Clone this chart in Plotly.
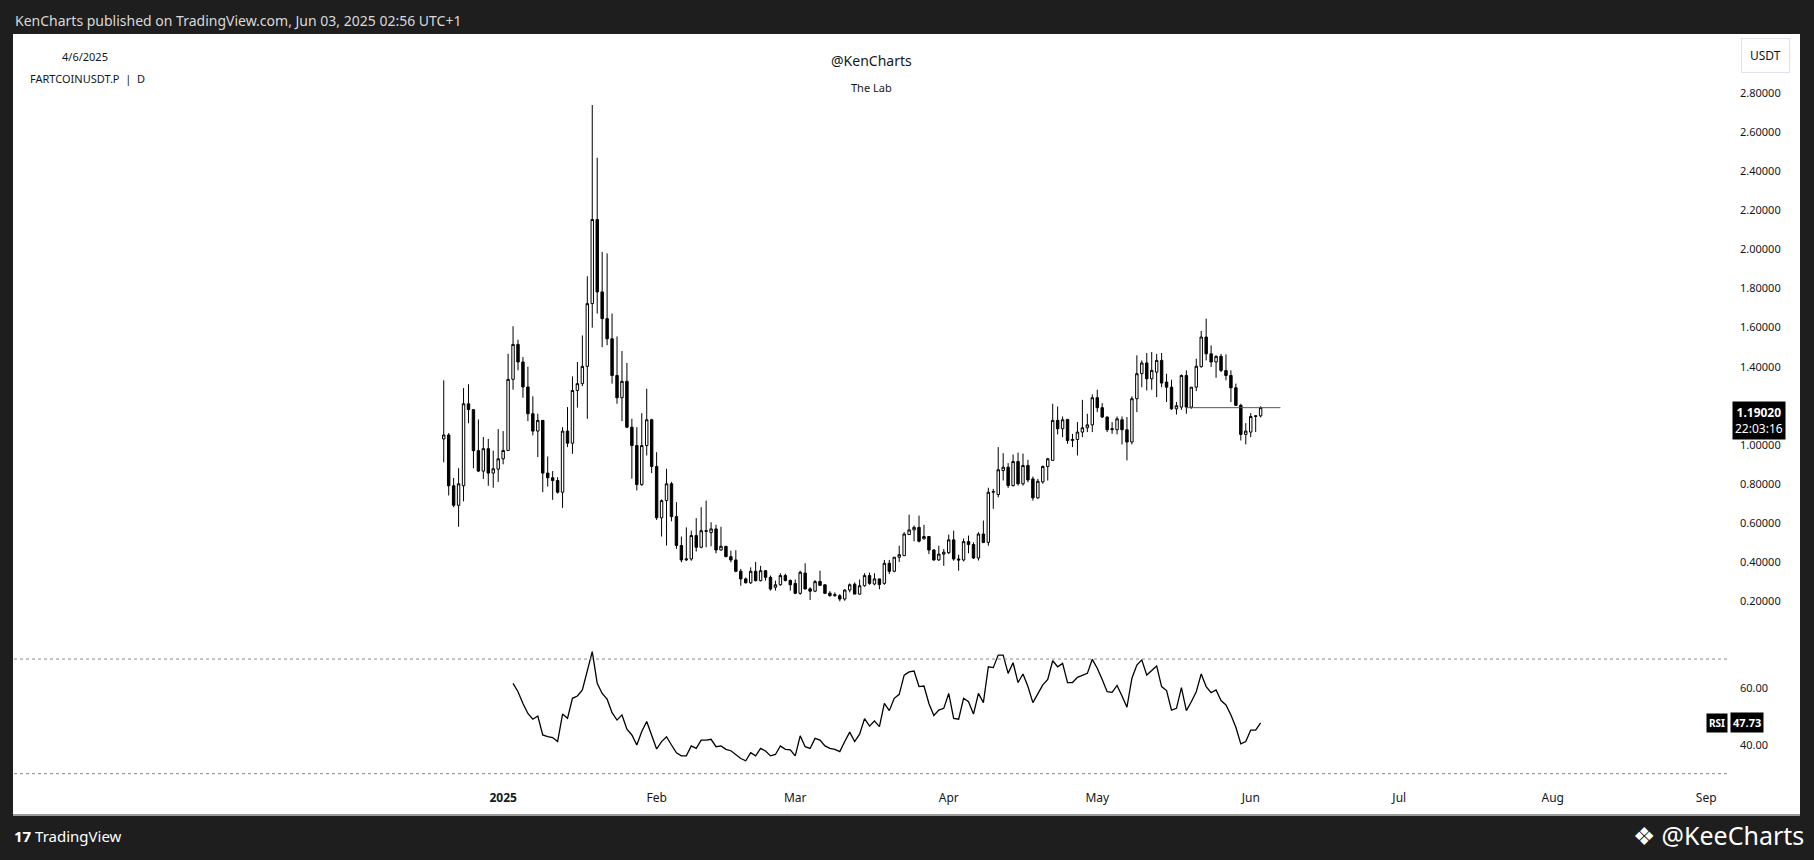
import pandas as pd
import plotly.graph_objects as go

W, H = 1814, 860

# FARTCOINUSDT.P 日线 (2024-12-20 ~ 2025-06-03)
first_day = "2024-12-20"
opens = [
    1.03, 1.05, 0.79, 0.69, 0.79, 1.21, 1.18, 0.97, 0.865, 0.98, 0.855, 0.875,
    0.928, 0.971, 1.335, 1.514, 1.424, 1.296, 1.159, 1.070, 1.125, 0.855, 0.831, 0.817, 0.757, 1.070, 1.008, 1.278,
    1.313, 1.4015, 1.723, 2.154, 1.783, 1.646, 1.543, 1.355, 1.241, 1.325, 1.090, 0.996, 0.796, 0.996, 1.128,
    0.889, 0.626, 0.714, 0.80, 0.632, 0.484, 0.41, 0.415, 0.535, 0.475, 0.56, 0.55, 0.569, 0.461,
    0.48, 0.427, 0.41, 0.352, 0.313, 0.293, 0.352, 0.304, 0.355, 0.321, 0.27, 0.283, 0.33, 0.305,
    0.29, 0.239, 0.343, 0.262, 0.25, 0.30, 0.283, 0.24, 0.227, 0.227, 0.21, 0.256, 0.286, 0.235, 0.278, 0.33,
    0.287, 0.313, 0.29, 0.393, 0.352, 0.424, 0.432, 0.54, 0.564, 0.577, 0.518, 0.53, 0.461, 0.41, 0.44,
    0.447, 0.513, 0.415, 0.41, 0.504, 0.489, 0.42, 0.543, 0.50, 0.757, 0.745, 0.868, 0.885, 0.791, 0.914,
    0.80, 0.894, 0.825, 0.728, 0.81, 0.889, 0.92, 1.125, 1.082, 1.13, 1.022, 1.027, 1.065, 1.087, 1.102,
    1.241, 1.19, 1.142, 1.077, 1.077, 1.128, 1.077, 1.014, 1.236, 1.364, 1.419, 1.338, 1.372, 1.432, 1.321, 1.295,
    1.184, 1.193, 1.355, 1.193, 1.295, 1.40, 1.552, 1.466, 1.424, 1.453, 1.38, 1.355, 1.292, 1.202, 1.053,
    1.065, 1.145, 1.148,
]
highs = [
    1.33, 1.06, 0.83, 0.88, 1.29, 1.31, 1.18, 1.13, 1.04, 1.03, 0.97, 1.08,
    1.07, 1.466, 1.607, 1.538, 1.449, 1.40, 1.248, 1.159, 1.125, 0.94, 0.865, 0.834, 1.09, 1.193, 1.35, 1.424,
    1.56, 1.863, 2.74, 2.47, 1.988, 1.98, 1.672, 1.555, 1.48, 1.419, 1.133, 1.09, 1.162, 1.287, 1.133,
    0.962, 0.72, 0.877, 0.81, 0.706, 0.53, 0.577, 0.56, 0.624, 0.68, 0.714, 0.603, 0.59, 0.58,
    0.48, 0.458, 0.46, 0.364, 0.32, 0.372, 0.40, 0.38, 0.358, 0.33, 0.304, 0.342, 0.34, 0.31,
    0.31, 0.355, 0.393, 0.27, 0.307, 0.355, 0.283, 0.25, 0.244, 0.235, 0.26, 0.29, 0.295, 0.31, 0.342, 0.345,
    0.342, 0.313, 0.41, 0.41, 0.424, 0.483, 0.552, 0.642, 0.586, 0.637, 0.59, 0.53, 0.466, 0.483, 0.466,
    0.54, 0.56, 0.437, 0.52, 0.535, 0.50, 0.552, 0.612, 0.78, 0.774, 0.988, 0.957, 0.906, 0.95, 0.96,
    0.955, 0.923, 0.837, 0.825, 0.894, 0.933, 1.21, 1.196, 1.145, 1.13, 1.056, 1.116, 1.23, 1.159, 1.258,
    1.282, 1.213, 1.145, 1.116, 1.145, 1.145, 1.142, 1.248, 1.458, 1.432, 1.47, 1.475, 1.465, 1.47, 1.364, 1.333,
    1.219, 1.36, 1.381, 1.295, 1.441, 1.583, 1.646, 1.509, 1.458, 1.466, 1.463, 1.381, 1.313, 1.21, 1.111,
    1.162, 1.15, 1.197,
]
lows = [
    0.91, 0.74, 0.68, 0.58, 0.71, 1.11, 0.88, 0.86, 0.825, 0.79, 0.78, 0.81,
    0.90, 0.97, 1.282, 1.381, 1.241, 1.121, 1.048, 0.937, 0.757, 0.786, 0.718, 0.75, 0.677, 0.988, 0.954, 1.19,
    1.30, 1.133, 1.60, 1.672, 1.50, 1.51, 1.313, 1.21, 1.121, 1.085, 0.826, 0.766, 0.79, 0.945, 0.855,
    0.615, 0.53, 0.484, 0.608, 0.467, 0.398, 0.405, 0.406, 0.453, 0.47, 0.475, 0.48, 0.444, 0.458,
    0.424, 0.398, 0.347, 0.278, 0.29, 0.287, 0.30, 0.30, 0.304, 0.253, 0.253, 0.278, 0.30, 0.253,
    0.235, 0.232, 0.26, 0.205, 0.245, 0.278, 0.235, 0.222, 0.222, 0.198, 0.201, 0.244, 0.235, 0.232, 0.273, 0.283,
    0.28, 0.26, 0.283, 0.338, 0.347, 0.40, 0.43, 0.54, 0.506, 0.50, 0.515, 0.44, 0.406, 0.406, 0.38,
    0.44, 0.406, 0.355, 0.403, 0.444, 0.415, 0.407, 0.496, 0.483, 0.672, 0.731, 0.817, 0.779, 0.786, 0.791,
    0.791, 0.808, 0.714, 0.723, 0.80, 0.817, 0.92, 1.053, 1.039, 1.005, 0.988, 0.945, 1.039, 1.065, 1.065,
    1.167, 1.138, 1.065, 1.056, 1.053, 1.002, 0.92, 1.002, 1.167, 1.295, 1.278, 1.282, 1.244, 1.295, 1.219, 1.179,
    1.155, 1.179, 1.159, 1.184, 1.275, 1.395, 1.432, 1.398, 1.343, 1.372, 1.33, 1.219, 1.20, 1.022, 1.002,
    1.039, 1.065, 1.14,
]
closes = [
    1.05, 0.79, 0.69, 0.80, 1.21, 1.18, 0.97, 0.865, 0.98, 0.855, 0.877, 0.928,
    0.971, 1.335, 1.514, 1.424, 1.296, 1.159, 1.070, 1.125, 0.855, 0.831, 0.817, 0.757, 1.070, 1.008, 1.278, 1.313,
    1.4015, 1.723, 2.154, 1.783, 1.646, 1.543, 1.355, 1.241, 1.325, 1.090, 0.996, 0.796, 0.996, 1.128, 0.889,
    0.626, 0.714, 0.80, 0.632, 0.484, 0.41, 0.415, 0.535, 0.475, 0.56, 0.557, 0.569, 0.461, 0.48,
    0.427, 0.41, 0.352, 0.313, 0.293, 0.352, 0.304, 0.355, 0.321, 0.261, 0.283, 0.33, 0.305, 0.283,
    0.239, 0.347, 0.261, 0.25, 0.299, 0.28, 0.239, 0.227, 0.232, 0.21, 0.256, 0.283, 0.235, 0.278, 0.33, 0.29,
    0.313, 0.284, 0.393, 0.352, 0.424, 0.437, 0.543, 0.564, 0.577, 0.506, 0.53, 0.461, 0.41, 0.44, 0.45,
    0.513, 0.415, 0.41, 0.504, 0.489, 0.42, 0.543, 0.50, 0.757, 0.76, 0.872, 0.885, 0.791, 0.914, 0.80,
    0.894, 0.82, 0.728, 0.813, 0.889, 0.928, 1.125, 1.082, 1.128, 1.022, 1.027, 1.065, 1.087, 1.102, 1.241,
    1.19, 1.142, 1.077, 1.082, 1.133, 1.077, 1.014, 1.236, 1.364, 1.419, 1.338, 1.381, 1.432, 1.316, 1.295, 1.184,
    1.20, 1.355, 1.193, 1.295, 1.402, 1.552, 1.466, 1.424, 1.453, 1.381, 1.355, 1.292, 1.202, 1.053, 1.07,
    1.145, 1.148, 1.1902,
]

# RSI(14), 2025-01-03 起
rsi_first_day = "2025-01-03"
rsi_values = [
    61.5, 58.6, 54.5, 51.0, 49.0, 50.1, 43.5, 42.9, 42.6, 41.2,
    50.8, 49.3, 56.3, 57.1, 59.2, 65.6, 72.6, 61.5, 58.0, 56.0,
    51.3, 48.7, 50.5, 45.5, 43.5, 40.0, 44.7, 48.2, 43.5, 38.6,
    41.2, 42.9, 40.0, 37.3, 36.2, 36.2, 39.7, 38.8, 41.7, 41.7,
    42.0, 39.4, 39.7, 38.5, 38.0, 36.5, 35.3, 34.5, 37.3, 36.2,
    38.8, 37.9, 36.2, 36.7, 39.7, 38.5, 38.3, 36.2, 43.2, 39.4,
    38.8, 42.3, 41.7, 39.7, 38.8, 38.5, 37.7, 41.2, 44.5, 41.2,
    43.8, 49.2, 46.6, 48.4, 46.4, 54.5, 52.0, 56.3, 57.7, 64.4,
    65.5, 65.8, 60.4, 60.6, 54.5, 50.3, 52.2, 52.8, 58.0, 49.3,
    49.0, 56.3, 55.1, 50.8, 58.0, 54.8, 67.3, 67.0, 71.4, 71.4,
    65.0, 68.7, 61.8, 64.8, 60.4, 54.8, 58.0, 61.0, 62.9, 69.4,
    67.3, 68.5, 61.8, 61.8, 63.6, 64.4, 65.0, 69.9, 66.8, 62.9,
    58.6, 58.4, 60.8, 57.1, 53.2, 63.3, 67.9, 69.7, 64.4, 66.0,
    67.6, 60.4, 59.0, 52.2, 52.8, 60.0, 52.0, 55.1, 58.6, 64.8,
    60.4, 58.3, 59.2, 55.5, 54.0, 50.5, 46.2, 40.4, 41.2, 45.2,
    45.2, 47.73,
]
rsi_levels = [70, 30]

# 手绘水平线
hline_price = 1.19
hline_dates = ["2025-05-19", "2025-06-07"]
countdown = "22:03:16"

month_ticks = ["2025-01-01", "2025-02-01", "2025-03-01", "2025-04-01", "2025-05-01",
               "2025-06-01", "2025-07-01", "2025-08-01", "2025-09-01"]
month_labels = ["<b>2025</b>", "Feb", "Mar", "Apr", "May", "Jun", "Jul", "Aug", "Sep"]
# 1.2 被当前价格标签盖住, 不显示
price_ticks = [0.2, 0.4, 0.6, 0.8, 1.0, 1.4, 1.6, 1.8, 2.0, 2.2, 2.4, 2.6, 2.8]
rsi_ticks = [40, 60]

dates = pd.date_range(first_day, periods=len(opens), freq="D")
rsi_dates = pd.date_range(rsi_first_day, periods=len(rsi_values), freq="D")


def px(x):
    return x / W


def py(y):
    return 1 - y / H


FONT = "Noto Sans, Open Sans, sans-serif"
DARK = "#1e1e1e"
TEXT = "#131722"

jan1 = pd.Timestamp("2025-01-01")
x_range = [jan1 - pd.Timedelta(days=98.8), jan1 + pd.Timedelta(days=247.2)]

fig = go.Figure()

fig.add_trace(go.Candlestick(
    x=dates, open=opens, high=highs, low=lows, close=closes,
    increasing=dict(fillcolor="#ffffff", line=dict(color="#000000", width=1)),
    decreasing=dict(fillcolor="#000000", line=dict(color="#000000", width=1)),
    whiskerwidth=0, showlegend=False, xaxis="x", yaxis="y",
))

fig.add_trace(go.Scatter(
    x=rsi_dates, y=rsi_values, mode="lines",
    line=dict(color="#000000", width=1.3),
    showlegend=False, xaxis="x2", yaxis="y2",
))

shapes = [
    # 白色面板
    dict(type="rect", xref="paper", yref="paper", x0=px(13), x1=px(1800), y0=py(815), y1=py(34),
         fillcolor="#ffffff", line=dict(width=0), layer="below"),
    dict(type="line", xref="paper", yref="paper", x0=px(13), x1=px(1800), y0=py(815), y1=py(815),
         line=dict(color="#9a9a9a", width=2), layer="below"),
    dict(type="line", xref="x", yref="y", x0=hline_dates[0], x1=hline_dates[1],
         y0=hline_price, y1=hline_price, line=dict(color="#555555", width=1)),
]
for lv in rsi_levels:
    shapes.append(dict(type="line", xref="x2 domain", yref="y2", x0=0, x1=1, y0=lv, y1=lv,
                       line=dict(color="#8a8a8a", width=1, dash="dot")))

annotations = [
    dict(text="KenCharts published on TradingView.com, Jun 03, 2025 02:56 UTC+1",
         x=px(13), y=py(20), xanchor="left", yanchor="middle",
         font=dict(size=14, color="#d9d9d9")),
    dict(text="4/6/2025", x=px(60), y=py(57), xanchor="left", yanchor="middle",
         font=dict(size=11, color=TEXT)),
    dict(text="FARTCOINUSDT.P  |  D", x=px(28), y=py(78), xanchor="left", yanchor="middle",
         font=dict(size=11, color=TEXT)),
    dict(text="@KenCharts", x=px(871), y=py(60), xanchor="center", yanchor="middle",
         font=dict(size=14, color=TEXT)),
    dict(text="The Lab", x=px(871), y=py(87), xanchor="center", yanchor="middle",
         font=dict(size=11, color=TEXT)),
    dict(text="USDT", x=px(1765), y=py(55), xanchor="center", yanchor="middle",
         font=dict(size=12, color=TEXT), bgcolor="#ffffff", bordercolor="#e0e3eb",
         borderwidth=1, borderpad=8),
    dict(text=f"<b>{closes[-1]:.5f}</b><br>{countdown}", xref="paper", yref="y",
         x=px(1732), y=closes[-1], xanchor="left", yanchor="top", yshift=7,
         font=dict(size=12, color="#ffffff"), bgcolor="#000000", borderpad=2, align="center"),
    dict(text="<b>RSI</b>", xref="paper", yref="y2", x=px(1728), y=rsi_values[-1],
         xanchor="right", yanchor="middle", font=dict(size=10, color="#ffffff"),
         bgcolor="#000000", borderpad=2),
    dict(text=f"<b>{rsi_values[-1]:.2f}</b>", xref="paper", yref="y2", x=px(1730), y=rsi_values[-1],
         xanchor="left", yanchor="middle", font=dict(size=11, color="#ffffff"),
         bgcolor="#000000", borderpad=2),
    dict(text="<b>17</b> TradingView", x=px(12), y=py(836), xanchor="left", yanchor="middle",
         font=dict(size=15, color="#ffffff")),
    dict(text="❖ @KeeCharts", x=px(1806), y=py(835), xanchor="right", yanchor="middle",
         font=dict(size=25, color="#ffffff")),
]
for a in annotations:
    a.setdefault("xref", "paper")
    a.setdefault("yref", "paper")
    a["showarrow"] = False

fig.update_layout(
    width=W, height=H,
    margin=dict(l=0, r=0, t=0, b=0),
    paper_bgcolor=DARK,
    plot_bgcolor="rgba(0,0,0,0)",
    font=dict(family=FONT, color=TEXT),
    hovermode=False,
    xaxis=dict(domain=[px(14), px(1727)], range=x_range, type="date", anchor="y",
               showgrid=False, zeroline=False, showticklabels=False,
               rangeslider=dict(visible=False)),
    yaxis=dict(domain=[py(640), py(34)], range=[0.0, 3.104], side="right", anchor="x",
               tickvals=price_ticks, ticktext=[f"{v:.5f}" for v in price_ticks],
               showgrid=False, zeroline=False, ticks="", ticklabelstandoff=12,
               tickfont=dict(size=11, color=TEXT)),
    xaxis2=dict(domain=[px(14), px(1727)], range=x_range, type="date", anchor="y2",
                showgrid=False, zeroline=False, tickvals=month_ticks, ticktext=month_labels,
                ticks="", ticklabelstandoff=4, tickfont=dict(size=12, color=TEXT)),
    yaxis2=dict(domain=[py(785), py(642)], range=[26.04, 75.95], side="right", anchor="x2",
                tickvals=rsi_ticks, ticktext=[f"{v:.2f}" for v in rsi_ticks],
                showgrid=False, zeroline=False, ticks="", ticklabelstandoff=12,
                tickfont=dict(size=11, color=TEXT)),
    shapes=shapes,
    annotations=annotations,
)

fig.write_html("out.html", config={"displayModeBar": False},
               post_script="document.body.style.margin='0';document.body.style.background='#1e1e1e';")
